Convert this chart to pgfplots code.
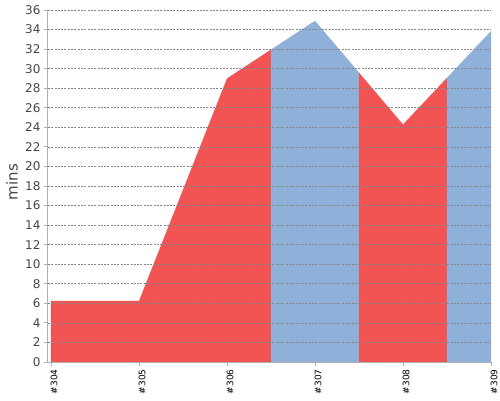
\documentclass[border=0pt]{standalone}
\usepackage{pgfplots}
\pgfplotsset{compat=1.18}
\usepackage{fontspec}
\setmainfont{DejaVu Sans}
\definecolor{redfill}{RGB}{242,84,84}
\definecolor{bluefill}{RGB}{143,177,217}
\definecolor{axisgray}{RGB}{176,176,176}
\definecolor{gridgray}{RGB}{135,135,135}
\definecolor{labelgray}{RGB}{70,70,70}
\begin{document}
\begin{tikzpicture}[x=1pt,y=1pt]
\useasboundingbox (0,0) rectangle (500,400);
\begin{axis}[
    at={(48pt,38pt)}, anchor=south west,
    scale only axis,
    width=443pt, height=352pt,
    xmin=-0.034, xmax=5,
    ymin=0, ymax=36,
    axis x line*=bottom,
    axis y line*=left,
    axis line style={axisgray, line width=1pt, -},
    xtick={0,1,2,3,4,5},
    xticklabels={\#304,\#305,\#306,\#307,\#308,\#309},
    x tick label style={rotate=90, anchor=east, yshift=-3pt, font=\fontsize{9}{10}\selectfont, text=black},
    ytick={0,2,...,36},
    y tick label style={font=\fontsize{12}{14}\selectfont, text=labelgray},
    /pgf/number format/assume math mode=true,
    tick style={axisgray, line width=0.8pt},
    tick align=outside,
    major tick length=4pt,
    ymajorgrids,
    grid style={gridgray, line width=0.7pt, dash pattern=on 2pt off 1.3pt},
    axis on top,
    ylabel={mins},
    every axis y label/.style={at={(axis description cs:-0.0813,0.511)}, rotate=90, anchor=center,
        font=\fontsize{15}{17}\selectfont, text=labelgray},
]
\addplot[fill=redfill, draw=none] coordinates {(0,6.25) (1,6.25) (2,29.0) (2.5,31.95)} \closedcycle;
\addplot[fill=bluefill, draw=none] coordinates {(2.5,31.95) (3,34.9) (3.5,29.6)} \closedcycle;
\addplot[fill=redfill, draw=none] coordinates {(3.5,29.6) (4,24.3) (4.5,29.07)} \closedcycle;
\addplot[fill=bluefill, draw=none] coordinates {(4.5,29.07) (5,33.85)} \closedcycle;
\end{axis}
\end{tikzpicture}
\end{document}
